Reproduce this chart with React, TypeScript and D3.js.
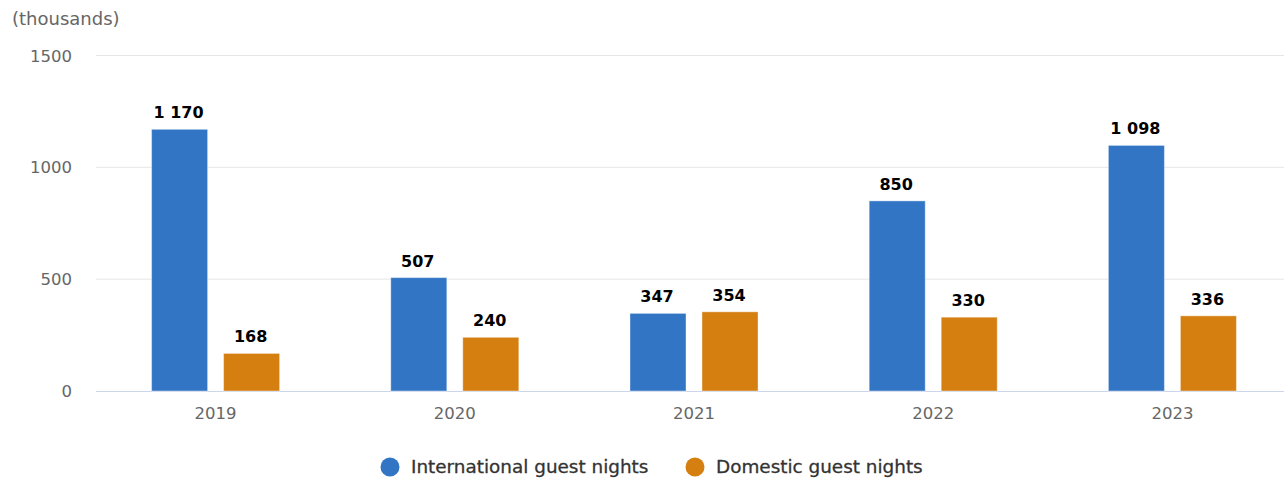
import React from "react";
import * as d3 from "d3";

const categories = ["2019", "2020", "2021", "2022", "2023"];
const seriesNames = ["International guest nights", "Domestic guest nights"];
const international = [1170, 507, 347, 850, 1098];
const domestic = [168, 240, 354, 330, 336];
const yTicks = [0, 500, 1000, 1500];
const colors = ["#3275c4", "#d47f10"];

const W = 1284;
const H = 479;
const FONT = "'DejaVu Sans', Verdana, sans-serif";

function fmt(v: number) {
  const s = String(v);
  return s.length > 3 ? s.slice(0, s.length - 3) + " " + s.slice(-3) : s;
}

export default function App() {
  const x0 = d3.scaleBand<string>().domain(categories).range([96, 1292]).padding(0);
  const x1 = d3
    .scaleBand<string>()
    .domain(seriesNames)
    .range([0, x0.bandwidth()])
    .paddingInner(0.222)
    .paddingOuter(0.772);
  const y = d3.scaleLinear().domain([0, 1500]).range([391, 55.5]);
  const values = [international, domestic];
  const legendX = [390, 695];

  return (
    <svg
      width={W}
      height={H}
      style={{ position: "absolute", left: 0, top: 0, background: "#fff" }}
      fontFamily={FONT}
    >
      <text x={12} y={25} fontSize={18} fill="#666666">
        (thousands)
      </text>
      {yTicks.map((t) => (
        <g key={t}>
          {t > 0 && (
            <line x1={96} x2={W} y1={y(t)} y2={y(t)} stroke="#e6e6e6" strokeWidth={1} />
          )}
          <text x={72} y={y(t) + 6} fontSize={16.5} fill="#666666" textAnchor="end">
            {t}
          </text>
        </g>
      ))}
      <line x1={96} x2={W} y1={y(0) + 0.5} y2={y(0) + 0.5} stroke="#ccd6eb" strokeWidth={1} />
      {categories.map((c, i) => (
        <g key={c}>
          {seriesNames.map((s, j) => {
            const v = values[j][i];
            const bx = (x0(c) as number) + (x1(s) as number);
            const bw = x1.bandwidth();
            return (
              <g key={s}>
                <rect
                  x={bx}
                  y={y(v)}
                  width={bw}
                  height={y(0) - y(v)}
                  fill={colors[j]}
                  stroke="#ffffff"
                  strokeOpacity={0.4}
                  strokeWidth={1}
                />
                <text
                  x={bx + bw / 2 - 1}
                  y={y(v) - 11}
                  fontSize={16}
                  fontWeight={700}
                  fill="#000000"
                  textAnchor="middle"
                >
                  {fmt(v)}
                </text>
              </g>
            );
          })}
          <text
            x={(x0(c) as number) + x0.bandwidth() / 2}
            y={419}
            fontSize={16.5}
            fill="#666666"
            textAnchor="middle"
          >
            {c}
          </text>
        </g>
      ))}
      {seriesNames.map((s, j) => (
        <g key={s}>
          <circle cx={legendX[j]} cy={467} r={9.5} fill={colors[j]} />
          <text x={legendX[j] + 21} y={473} fontSize={18.4} fill="#333333" stroke="#333333" strokeWidth={0.3}>
            {s}
          </text>
        </g>
      ))}
    </svg>
  );
}
